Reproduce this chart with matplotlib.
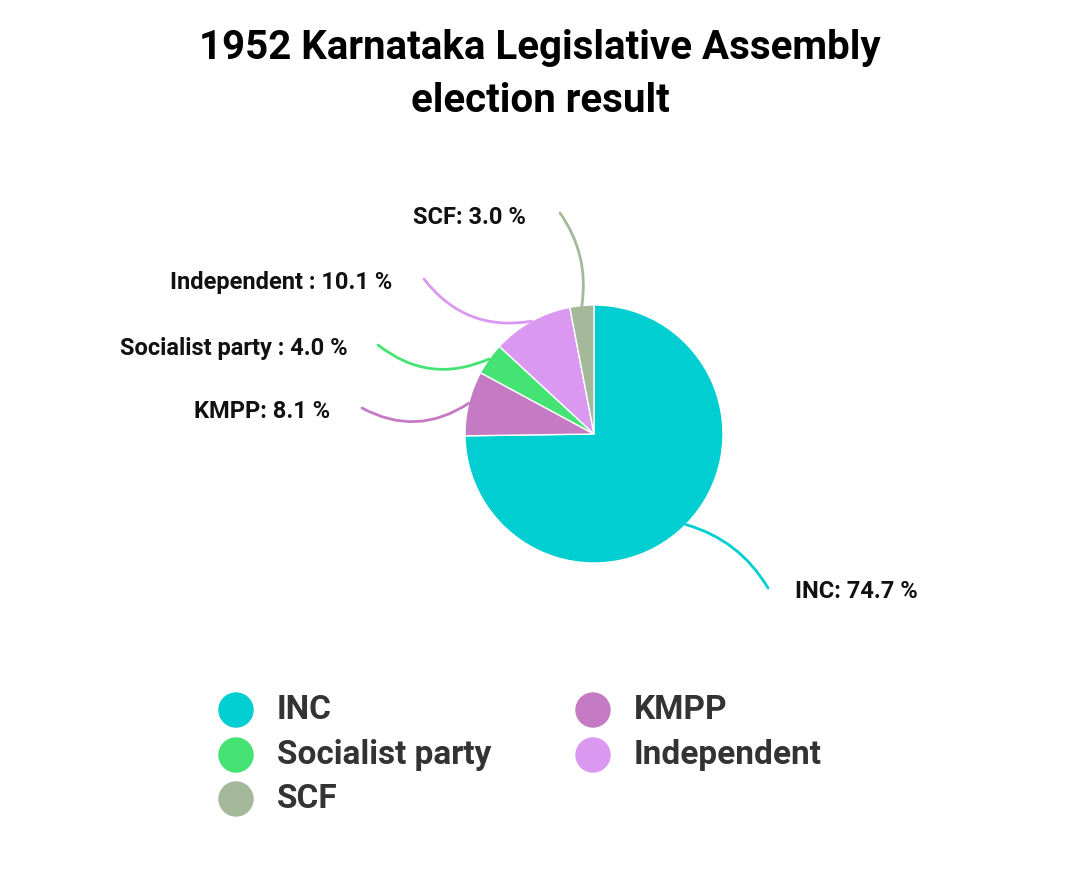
import numpy as np
import matplotlib
matplotlib.use("Agg")
import matplotlib.pyplot as plt
from matplotlib.patches import Circle

parties = ["INC", "KMPP", "Socialist party", "Independent", "SCF"]
shares = [74.7, 8.1, 4.0, 10.1, 3.0]
label_names = ["INC", "KMPP", "Socialist party ", "Independent ", "SCF"]
colors = ["#00CED1", "#C57BC4", "#45E374", "#DA98F0", "#A4B99A"]

W, H = 1080, 882
fig = plt.figure(figsize=(W/100, H/100), dpi=100)
ax = fig.add_axes([0, 0, 1, 1])
ax.set_xlim(0, W); ax.set_ylim(0, H); ax.set_aspect("equal"); ax.axis("off")
font = "Roboto"

cx, cy, R = 594, H - 434, 129
wedges, _ = ax.pie(shares, colors=colors, startangle=90, counterclock=False,
                   center=(cx, cy), radius=R, frame=True,
                   wedgeprops=dict(linewidth=1, edgecolor="white"))
ax.set_xlim(0, W); ax.set_ylim(0, H); ax.axis("off")

fig.text(0.5, 1 - 48/H, "1952 Karnataka Legislative Assembly", ha="center", va="center",
         fontsize=29, fontweight="bold", family=font)
fig.text(0.5, 1 - 101/H, "election result", ha="center", va="center",
         fontsize=29, fontweight="bold", family=font)

# label layout (pixel positions of leader-line ends and text)
ends = [(768, 588), (362, 408), (378, 345), (424, 279), (560, 213)]
text_x = [795, 330, 348, 392, 526]
align = ["left", "right", "right", "right", "right"]
rads = [0.2, 0.3, 0.3, 0.3, -0.2]
for w, name, val, col, (ex, ey), tx, al, rd in zip(wedges, label_names, shares, colors, ends, text_x, align, rads):
    ang = np.deg2rad((w.theta1 + w.theta2) / 2)
    px, py = cx + R*np.cos(ang), cy + R*np.sin(ang)
    ax.annotate("", xy=(px, py), xytext=(ex, H - ey),
                arrowprops=dict(arrowstyle="-", color=col, lw=2,
                                connectionstyle=f"arc3,rad={rd}", shrinkA=0, shrinkB=0))
    ax.text(tx, H - ey - 4, f"{name}: {val:.1f} %", ha=al, va="center",
            fontsize=17, fontweight="bold", family=font, color="#111111")

# legend
leg_pos = {"INC": (236, 710), "Socialist party": (236, 755), "SCF": (236, 799),
           "KMPP": (593, 710), "Independent": (593, 755)}
for p, col in zip(parties, colors):
    lx, ly = leg_pos[p]
    ax.add_patch(Circle((lx, H - ly), 17, color=col))
    ax.text(lx + 41, H - ly, p, ha="left", va="center", fontsize=24,
            fontweight="bold", family=font, color="#333333")

fig.savefig("out.png", dpi=100, facecolor="white")
